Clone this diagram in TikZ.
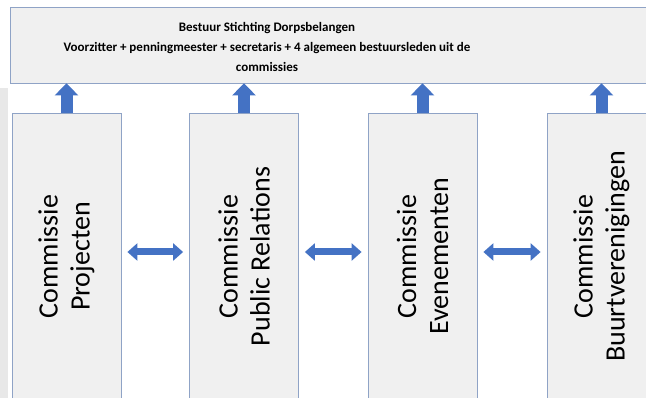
\documentclass[tikz,border=0pt]{standalone}
\usepackage{fontspec}
\setmainfont{Carlito}
\usetikzlibrary{arrows.meta,calc}

\definecolor{boxfill}{HTML}{F0F0F0}
\definecolor{boxline}{HTML}{8FA3C6}
\definecolor{arrowblue}{HTML}{4472C4}

\tikzset{
  combox/.style={draw=boxline, fill=boxfill, line width=0.8pt, rotate=90,
    minimum width=287pt, minimum height=109pt, inner sep=0pt,
    align=center, font=\fontsize{28}{32}\selectfont},
  upconn/.style={draw=arrowblue, line width=12pt,
    -{Triangle[width=23pt,length=12pt]}},
  sideconn/.style={draw=arrowblue, line width=7pt,
    {Triangle[width=17pt,length=10pt]}-{Triangle[width=17pt,length=10pt]},
    shorten <=6pt, shorten >=6pt}
}

\begin{document}
\begin{tikzpicture}[x=1pt,y=-1pt]

  % --- Frame of the picture ---
  \useasboundingbox (0,0) rectangle (646,398);
  \clip (0,0) rectangle (646,398);
  \fill[white] (0,0) rectangle (646,398);
  \fill[black!9] (0,88) rectangle (8,398);

  % --- Board at the top ---
  \node[draw=boxline, fill=boxfill, line width=0.8pt,
        minimum width=640pt, minimum height=76pt] (top) at (330,45) {};
  \node[align=center, font=\bfseries\fontsize{13}{20}\selectfont] (toptext) at (267,47)
    {Bestuur Stichting Dorpsbelangen\\
     Voorzitter + penningmeester + secretaris + 4 algemeen bestuursleden uit de\\
     commissies};

  % --- Commissions ---
  \node[combox] (proj)  at (66.5,256.5)  {Commissie\\Projecten};
  \node[combox] (pr)    at (244,256.5)   {Commissie\\Public Relations};
  \node[combox] (even)  at (422.5,256.5) {Commissie\\Evenementen};
  \node[combox] (buurt) at (601.5,256.5) {Commissie\\Buurtverenigingen};

  % --- Arrows up to the board ---
  \draw[upconn] (proj.east)  -- (proj.east |- top.south);
  \draw[upconn] (pr.east)    -- (pr.east |- top.south);
  \draw[upconn] (even.east)  -- (even.east |- top.south);
  \draw[upconn] (buurt.east) -- (buurt.east |- top.south);

  % --- Arrows between the commissions ---
  \draw[sideconn] ($(proj.south)+(0,-4.5)$) -- ($(pr.north)+(0,-4.5)$);
  \draw[sideconn] ($(pr.south)+(0,-4.5)$)   -- ($(even.north)+(0,-4.5)$);
  \draw[sideconn] ($(even.south)+(0,-4.5)$) -- ($(buurt.north)+(0,-4.5)$);

\end{tikzpicture}
\end{document}
